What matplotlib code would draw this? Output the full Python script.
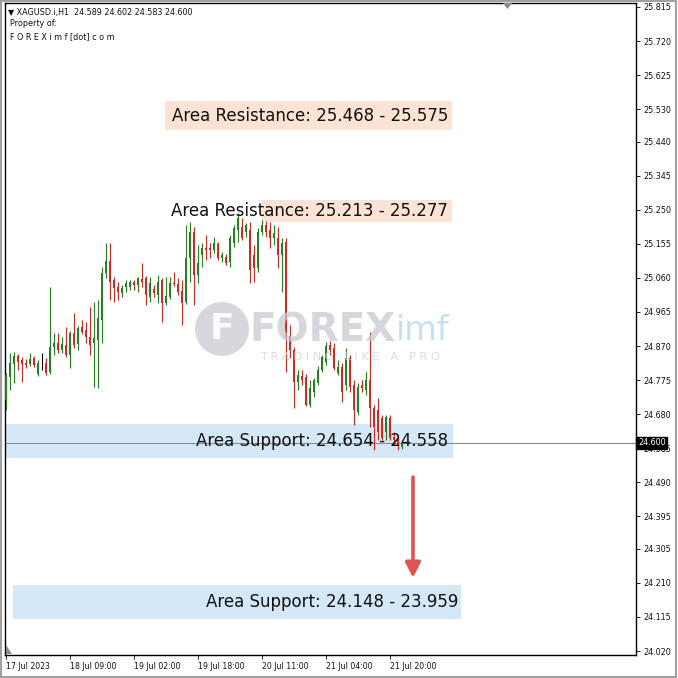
import matplotlib
matplotlib.use("Agg")
import matplotlib.pyplot as plt
from matplotlib.patches import Rectangle, Circle, Polygon
import numpy as np

# ---------------- data ----------------
opens = [24.720, 24.784, 24.820, 24.842, 24.831, 24.823, 24.820, 24.837, 24.792, 24.817,
         24.823, 24.798, 24.867, 24.879, 24.859, 24.873, 24.845, 24.906, 24.876, 24.923,
         24.915, 24.895, 24.879, 24.887, 24.943, 25.074, 25.107, 25.054, 25.035, 25.018,
         25.035, 25.035, 25.049, 25.040, 25.057, 25.060, 25.007, 25.029, 25.012, 25.054,
         24.990, 25.007, 25.046, 25.043, 25.024, 24.993, 25.115, 25.188, 25.068, 25.124,
         25.143, 25.143, 25.138, 25.154, 25.115, 25.118, 25.104, 25.157, 25.193, 25.202,
         25.188, 25.193, 25.124, 25.088, 25.188, 25.207, 25.193, 25.171, 25.171, 25.124,
         25.160, 24.898, 24.859, 24.770, 24.787, 24.784, 24.706, 24.742, 24.767, 24.803,
         24.826, 24.873, 24.865, 24.795, 24.812, 24.761, 24.837, 24.761, 24.686, 24.761,
         24.748, 24.775, 24.697, 24.692, 24.670, 24.631, 24.670, 24.617, 24.608, 24.589]
highs = [24.795, 24.851, 24.853, 24.848, 24.840, 24.834, 24.851, 24.842, 24.831, 24.851,
         24.837, 25.035, 24.906, 24.906, 24.895, 24.923, 24.912, 24.962, 24.926, 24.943,
         24.937, 24.979, 24.993, 24.998, 25.090, 25.157, 25.157, 25.063, 25.049, 25.040,
         25.054, 25.054, 25.054, 25.063, 25.102, 25.065, 25.063, 25.040, 25.068, 25.060,
         25.063, 25.063, 25.076, 25.060, 25.054, 25.207, 25.216, 25.202, 25.152, 25.157,
         25.180, 25.157, 25.174, 25.160, 25.132, 25.127, 25.180, 25.207, 25.241, 25.227,
         25.213, 25.216, 25.152, 25.199, 25.221, 25.219, 25.216, 25.207, 25.202, 25.171,
         25.171, 24.929, 24.867, 24.803, 24.803, 24.792, 24.775, 24.781, 24.814, 24.845,
         24.881, 24.884, 24.879, 24.831, 24.823, 24.865, 24.845, 24.775, 24.767, 24.775,
         24.798, 24.909, 24.706, 24.725, 24.678, 24.678, 24.678, 24.631, 24.617, 24.602]
lows = [24.692, 24.748, 24.767, 24.803, 24.770, 24.809, 24.814, 24.812, 24.787, 24.803,
        24.789, 24.792, 24.845, 24.851, 24.851, 24.840, 24.809, 24.865, 24.859, 24.904,
        24.879, 24.845, 24.756, 24.753, 24.879, 25.060, 24.998, 24.993, 24.998, 25.007,
        25.021, 25.026, 25.026, 25.021, 25.035, 24.984, 24.993, 25.007, 24.990, 24.937,
        24.984, 25.001, 25.037, 25.012, 24.929, 24.987, 25.049, 24.984, 25.046, 25.090,
        25.110, 25.115, 25.129, 25.110, 25.104, 25.096, 25.090, 25.146, 25.160, 25.166,
        25.174, 25.046, 25.049, 25.076, 25.180, 25.174, 25.143, 25.152, 25.088, 25.021,
        24.798, 24.837, 24.697, 24.748, 24.761, 24.703, 24.700, 24.728, 24.761, 24.798,
        24.817, 24.845, 24.803, 24.789, 24.714, 24.748, 24.742, 24.650, 24.678, 24.742,
        24.734, 24.644, 24.580, 24.608, 24.608, 24.608, 24.608, 24.597, 24.580, 24.583]
closes = [24.789, 24.823, 24.842, 24.826, 24.820, 24.817, 24.834, 24.817, 24.823, 24.817,
          24.795, 24.867, 24.879, 24.859, 24.876, 24.845, 24.906, 24.873, 24.920, 24.909,
          24.895, 24.873, 24.892, 24.948, 25.074, 25.107, 25.049, 25.032, 25.021, 25.032,
          25.046, 25.049, 25.040, 25.060, 25.049, 25.012, 25.046, 25.018, 25.049, 24.990,
          25.010, 25.046, 25.043, 25.021, 24.990, 25.115, 25.188, 25.068, 25.102, 25.143,
          25.138, 25.138, 25.157, 25.115, 25.124, 25.102, 25.171, 25.199, 25.227, 25.171,
          25.207, 25.082, 25.088, 25.188, 25.207, 25.188, 25.171, 25.185, 25.124, 25.157,
          24.892, 24.859, 24.770, 24.789, 24.775, 24.706, 24.753, 24.775, 24.803, 24.840,
          24.870, 24.859, 24.809, 24.812, 24.742, 24.837, 24.756, 24.692, 24.756, 24.753,
          24.775, 24.697, 24.644, 24.631, 24.614, 24.672, 24.614, 24.608, 24.594, 24.600]

price_ticks = [25.815, 25.720, 25.625, 25.530, 25.440, 25.345, 25.250, 25.155, 25.060,
               24.965, 24.870, 24.775, 24.680, 24.585, 24.490, 24.395, 24.305, 24.210,
               24.115, 24.020]
time_tick_idx = [0, 16, 32, 48, 64, 80, 96]
time_labels = ["17 Jul 2023", "18 Jul 09:00", "19 Jul 02:00", "19 Jul 18:00",
               "20 Jul 11:00", "21 Jul 04:00", "21 Jul 20:00"]

zones = [  # (label, lo, hi, x0, x1, kind)
    ("Area Resistance: 25.468 - 25.575", 25.472, 25.553, 39.75, 111.5, "res"),
    ("Area Resistance: 25.213 - 25.277", 25.216, 25.277, 64.0, 111.5, "res"),
    ("Area Support: 24.654 - 24.558", 24.558, 24.653, -0.25, 111.75, "sup"),
    ("Area Support: 24.148 - 23.959", 24.109, 24.204, 1.75, 113.75, "sup"),
]
label_right = [110.5, 110.5, 110.5, 113.0]
current_price = 24.600

# ---------------- figure ----------------
W = H = 678
fig = plt.figure(figsize=(W / 100, H / 100), dpi=100)
fig.patch.set_facecolor("white")

def px(x0, y0, x1, y1):
    return [x0 / W, 1 - y1 / H, (x1 - x0) / W, (y1 - y0) / H]

ax = fig.add_axes(px(5, 3, 636, 655))
ymin = 25.8345 - 655 * 0.0027871
ymax = 25.8345 - 3 * 0.0027871
ax.set_ylim(ymin, ymax)
ax.set_xlim(-0.25, 157.5)

GREEN = "#25801f"
RED = "#d8261e"

# zones
for (lab, lo, hi, x0, x1, kind), xr in zip(zones, label_right):
    col = "#fce3d4" if kind == "res" else "#d5e8f8"
    ax.add_patch(Rectangle((x0, lo), x1 - x0, hi - lo, facecolor=col,
                           edgecolor="none", zorder=1))

# current price line
ax.axhline(current_price, color="#8c8c8c", lw=0.8, zorder=2)

# candles
o = np.array(opens); h = np.array(highs); l = np.array(lows); c = np.array(closes)
idx = np.arange(len(o))
cols = [GREEN if cc > oo else (RED if cc < oo else "black") for oo, cc in zip(o, c)]
ax.vlines(idx, l, h, colors=cols, lw=0.8, zorder=3)
bottom = np.minimum(o, c)
height = np.maximum(np.abs(c - o), 0.0012)
ax.bar(idx, height, bottom=bottom, width=0.68, color=cols, edgecolor="none",
       linewidth=0, zorder=4)

# zone labels
for (lab, lo, hi, x0, x1, kind), xr in zip(zones, label_right):
    ax.text(xr, (lo + hi) / 2, lab, ha="right", va="center", fontsize=12,
            color="#111111", zorder=6, family="DejaVu Sans")

# arrow
ax.annotate("", xy=(101.75, 24.224), xytext=(101.75, 24.505),
            arrowprops=dict(arrowstyle="-|>,head_width=0.45,head_length=0.9",
                            color="#e05353", lw=2.6, shrinkA=0, shrinkB=0),
            zorder=7)

# axes styling
for s in ax.spines.values():
    s.set_color("black"); s.set_linewidth(1.0)
ax.yaxis.tick_right()
ax.set_yticks(price_ticks)
ax.set_yticklabels([f"{t:.3f}" for t in price_ticks], fontsize=5.8, color="#111111")
ax.tick_params(axis="y", direction="out", length=3, width=0.6, pad=2)
ax.set_xticks(time_tick_idx)
ax.set_xticklabels(time_labels, fontsize=5.6, color="#111111", ha="left")
ax.tick_params(axis="x", direction="out", length=3, width=0.6, pad=2)
for t in ax.get_xticklabels():
    t.set_horizontalalignment("left")

# current price tag
ax.text(1.003, current_price, "24.600", transform=ax.get_yaxis_transform(),
        ha="left", va="center", fontsize=5.8, color="white", zorder=10,
        bbox=dict(boxstyle="square,pad=0.18", facecolor="black", edgecolor="black"),
        clip_on=False)

# header texts
fig.text(8 / W, 1 - 12 / H, "\u25bc XAGUSD.i,H1  24.589 24.602 24.583 24.600",
         fontsize=5.8, va="center", ha="left", color="#111111")
fig.text(10 / W, 1 - 24 / H, "Property of:", fontsize=5.8, va="center", ha="left", color="#111111")
fig.text(10 / W, 1 - 37 / H, "F O R E X i m f [dot] c o m", fontsize=5.8, va="center",
         ha="left", color="#111111")

# watermark
fig.patches.append(Circle((222 / W, 1 - 329 / H), 27 / W, transform=fig.transFigure,
                          facecolor="#c9cbd3", edgecolor="none", alpha=0.75, zorder=0.5))
fig.text(222 / W, 1 - 329 / H, "F", fontsize=26, fontweight="bold", color="white",
         ha="center", va="center", alpha=0.9, zorder=0.6)
fig.text(249 / W, 1 - 330 / H, "FOREX", fontsize=28, fontweight="bold", color="#c8cad2",
         ha="left", va="center", alpha=0.75, zorder=0.6)
fig.text(396 / W, 1 - 330 / H, "imf", fontsize=24, color="#b9d7ee",
         ha="left", va="center", alpha=0.8, zorder=0.6)
fig.text(260 / W, 1 - 357 / H, "T R A D I N G   L I K E   A   P R O", fontsize=8.2,
         color="#d2d4da", ha="left", va="center", alpha=0.8, zorder=0.6)

# small markers
fig.patches.append(Polygon([(503 / W, 1 - 3 / H), (512 / W, 1 - 3 / H), (507.5 / W, 1 - 9 / H)],
                           closed=True, transform=fig.transFigure, facecolor="#8a8a8a",
                           edgecolor="none"))
fig.patches.append(Polygon([(6 / W, 1 - 645 / H), (6 / W, 1 - 654 / H), (12 / W, 1 - 654 / H)],
                           closed=True, transform=fig.transFigure, facecolor="#8a8a8a",
                           edgecolor="none"))

# outer frame
fig.patches.append(Rectangle((0.5 / W, 1.5 / H), (W - 2.5) / W, (H - 2.5) / H,
                             transform=fig.transFigure, fill=False, edgecolor="#a0a0a0", lw=1.5))

fig.savefig("out.png", dpi=100, facecolor="white")
